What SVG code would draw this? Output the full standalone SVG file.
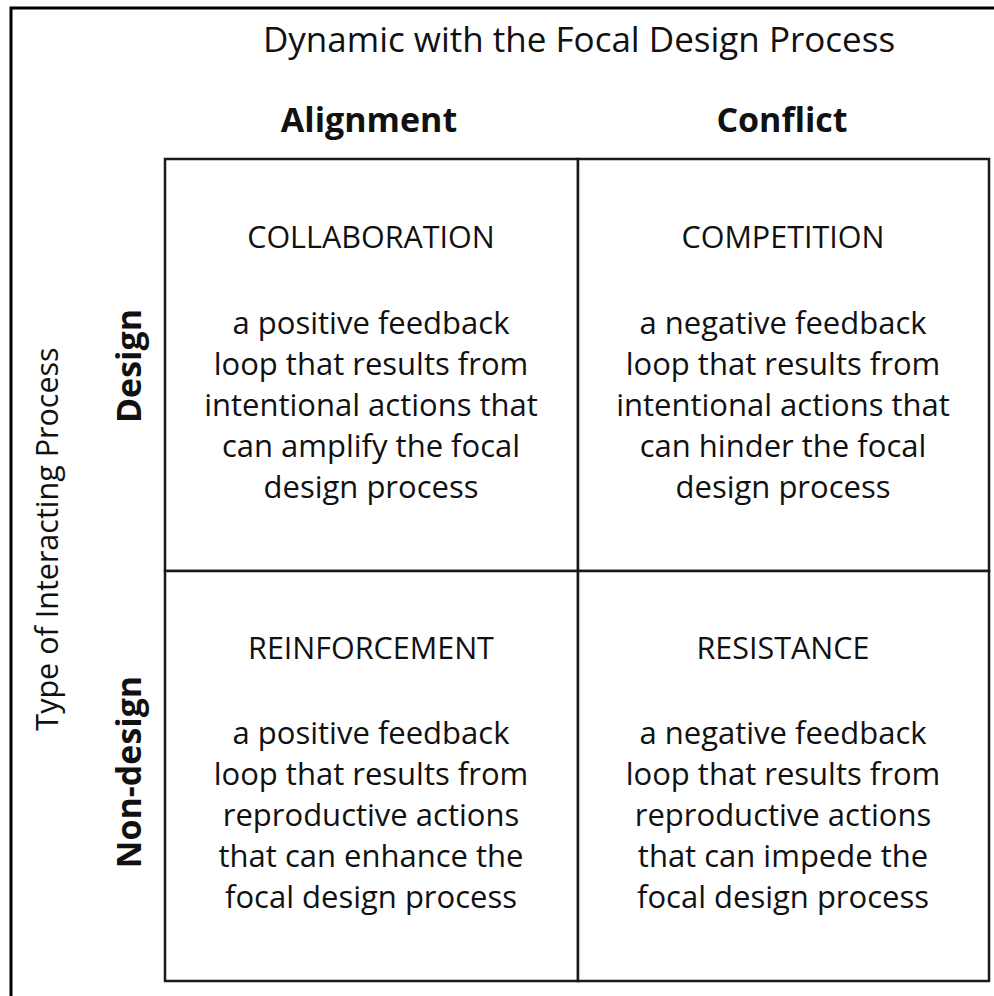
<svg xmlns="http://www.w3.org/2000/svg" width="994" height="996" viewBox="0 0 994 996">
<style>
.t{font-family:"Open Sans","Noto Sans",sans-serif;fill:#111;text-anchor:middle}
.title{font-size:35px}
.side{font-size:30.5px}
.hdr{font-size:34px;font-weight:bold}
.cap{font-size:30.5px}
.body{font-size:31px}
.cell{fill:#fff;stroke:#1a1a1a;stroke-width:2.5}
</style>
<rect width="994" height="996" fill="#fff"/>
<rect x="11" y="8" width="1000" height="1000" fill="none" stroke="#000" stroke-width="3"/>
<g id="axis-top">
<text class="t title" x="579" y="52">Dynamic with the Focal Design Process</text>
<text class="t hdr" x="369" y="132">Alignment</text>
<text class="t hdr" x="782" y="132">Conflict</text>
</g>
<g id="axis-left">
<text class="t side" transform="translate(58,539) rotate(-90)">Type of Interacting Process</text>
<text class="t hdr" transform="translate(141,366) rotate(-90)">Design</text>
<text class="t hdr" transform="translate(141,772) rotate(-90)">Non-design</text>
</g>
<g id="collaboration">
<rect class="cell" x="165" y="159" width="413" height="412"/>
<text class="t cap" x="371" y="248">COLLABORATION</text>
<text class="t body" x="371" y="334">a positive feedback</text>
<text class="t body" x="371" y="375">loop that results from</text>
<text class="t body" x="371" y="416">intentional actions that</text>
<text class="t body" x="371" y="457">can amplify the focal</text>
<text class="t body" x="371" y="498">design process</text>
</g>
<g id="competition">
<rect class="cell" x="578" y="159" width="411" height="412"/>
<text class="t cap" x="783" y="248">COMPETITION</text>
<text class="t body" x="783" y="334">a negative feedback</text>
<text class="t body" x="783" y="375">loop that results from</text>
<text class="t body" x="783" y="416">intentional actions that</text>
<text class="t body" x="783" y="457">can hinder the focal</text>
<text class="t body" x="783" y="498">design process</text>
</g>
<g id="reinforcement">
<rect class="cell" x="165" y="571" width="413" height="410"/>
<text class="t cap" x="371" y="659">REINFORCEMENT</text>
<text class="t body" x="371" y="744">a positive feedback</text>
<text class="t body" x="371" y="785">loop that results from</text>
<text class="t body" x="371" y="826">reproductive actions</text>
<text class="t body" x="371" y="867">that can enhance the</text>
<text class="t body" x="371" y="908">focal design process</text>
</g>
<g id="resistance">
<rect class="cell" x="578" y="571" width="411" height="410"/>
<text class="t cap" x="783" y="659">RESISTANCE</text>
<text class="t body" x="783" y="744">a negative feedback</text>
<text class="t body" x="783" y="785">loop that results from</text>
<text class="t body" x="783" y="826">reproductive actions</text>
<text class="t body" x="783" y="867">that can impede the</text>
<text class="t body" x="783" y="908">focal design process</text>
</g>
</svg>
